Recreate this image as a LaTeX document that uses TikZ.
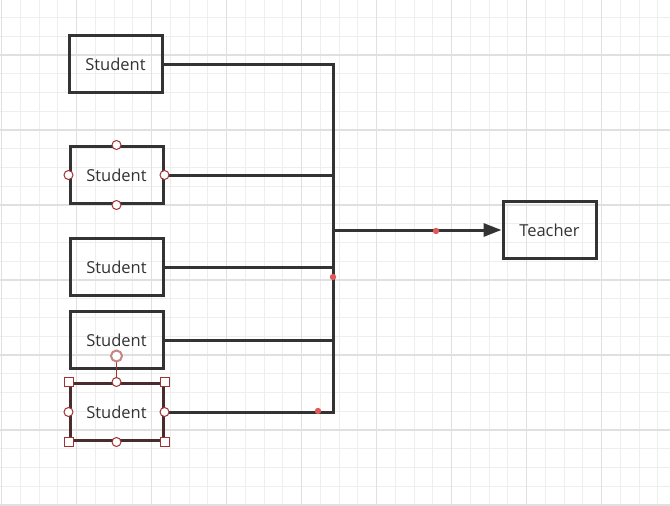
\documentclass[tikz,border=0pt]{standalone}
\usepackage{fontspec}
\setmainfont{Open Sans}
\usetikzlibrary{arrows.meta,positioning,calc}
\definecolor{linegray}{RGB}{51,51,51}
\definecolor{selbrown}{RGB}{74,44,44}
\definecolor{handlered}{RGB}{160,50,50}
\definecolor{dotred}{RGB}{224,88,88}
\definecolor{minorgrid}{RGB}{238,238,238}
\definecolor{majorgrid}{RGB}{224,224,224}

\begin{document}
\begin{tikzpicture}[
    x=1pt, y=-1pt,
    node distance=12pt,
    boxnode/.style={rectangle, draw=linegray, line width=3pt, minimum width=93pt, minimum height=57pt, font=\fontsize{16.5}{19}\selectfont, text=linegray},
    wire/.style={draw=linegray, line width=3pt},
    handle/.style={circle, draw=handlered, fill=white, line width=1pt, inner sep=0pt, minimum size=9pt},
    corner/.style={rectangle, draw=handlered, fill=white, line width=1pt, inner sep=0pt, minimum size=9pt},
    dot/.style={fill=dotred}
  ]
    % background grid
    \useasboundingbox (0,0) rectangle (670,506);
    \fill[white] (0,0) rectangle (670,506);
    \foreach \gx in {0,...,36}
      \draw[minorgrid, line width=1pt] ({1.7+18.75*\gx},0) -- ++(0,506);
    \foreach \gy in {0,...,27}
      \draw[minorgrid, line width=1pt] (0,{-1.25+18.75*\gy}) -- ++(670,0);
    \foreach \gx in {0,...,8}
      \draw[majorgrid, line width=1.3pt] ({1.7+75*\gx},0) -- ++(0,506);
    \foreach \gy in {0,...,6}
      \draw[majorgrid, line width=1.3pt] (0,{55+75*\gy}) -- ++(670,0);

    % students and teacher
    \node[boxnode] (s1) at (115.5,64) {Student};
    \node[boxnode, below=51pt of s1.south, anchor=north, xshift=1pt] (s2) {Student};
    \node[boxnode, below=32pt of s2.south, anchor=north] (s3) {Student};
    \node[boxnode, below=13pt of s3.south, anchor=north] (s4) {Student};
    \node[boxnode, draw=selbrown, below=12pt of s4.south, anchor=north] (s5) {Student};
    \node[boxnode] (teacher) at (549.5,230) {Teacher};

    % connectors to the bus
    \coordinate (bus) at (333,230);
    \foreach \s in {s1,s2,s3,s4,s5}
      \draw[wire] (\s.east) -- (\s.east -| bus);
    \draw[wire, line cap=rect] (s1.east -| bus) -- (s5.east -| bus);
    \draw[wire, -{Triangle[length=18pt, width=13pt]}] (bus) -- (teacher.west);

    % editor markers
    \fill[dot] (436,231) circle (3.2pt);
    \fill[dot] (333,277) circle (3.2pt);
    \fill[dot] (318,411) circle (3.2pt);

    % handles on the second student
    \foreach \a in {north,south,west,east}
      \node[handle] at (s2.\a) {};

    % selection of the last student
    \coordinate (rot) at ($(s5.north)+(0,-26)$);
    \draw[handlered, line width=1pt] (s5.north) -- (rot);
    \draw[handlered!60, fill=white, line width=2pt] (rot) circle (5.5pt);
    \foreach \a in {north,south,west,east}
      \node[handle] at (s5.\a) {};
    \foreach \a in {north west,north east,south west,south east}
      \node[corner] at (s5.\a) {};
  \end{tikzpicture}
\end{document}
